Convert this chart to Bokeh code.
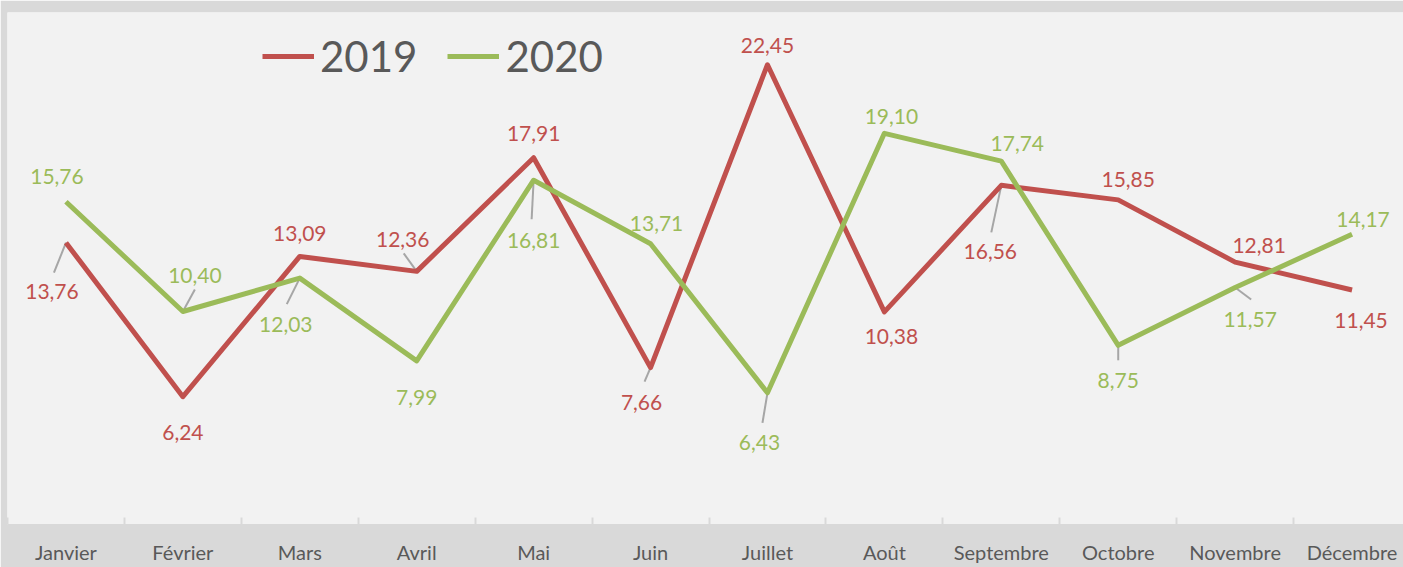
from bokeh.plotting import figure
from bokeh.models import ColumnDataSource, Range1d, FixedTicker, Legend, LegendItem
from bokeh.embed import file_html
from bokeh.resources import INLINE
from bokeh.core.properties import value

months = ["Janvier", "Février", "Mars", "Avril", "Mai", "Juin", "Juillet",
          "Août", "Septembre", "Octobre", "Novembre", "Décembre"]
v2019 = [13.76, 6.24, 13.09, 12.36, 17.91, 7.66, 22.45, 10.38, 16.56, 15.85, 12.81, 11.45]
v2020 = [15.76, 10.40, 12.03, 7.99, 16.81, 13.71, 6.43, 19.10, 17.74, 8.75, 11.57, 14.17]

# label placement (screen px, relative to the point)
lab2019_dx = [-14, 0, 0, -14, 0, -9, 0, 7, -11, 10, 24, 9]
lab2019_dy = [49, 36, -23, -32, -24, 35, -19, 25, 66, -20, -17, 30]
lab2020_dx = [-9, 12, -14, 0, 0, 6, -8, 7, 16, 0, 15, 11]
lab2020_dy = [-25, -36, 46, 37, 60, -20, 50, -17, -18, 35, 32, -15]

# leader lines: (index, dx, dy) end point offsets in px
lead2019 = [(0, -12, 30), (3, -13, -18), (5, -6, 14), (8, -10, 47)]
lead2020 = [(1, 12, -22), (2, -13, 26), (4, -2, 39), (6, -5, 30), (9, 0, 15), (10, 16, 12)]

RED = "#c0504d"
GREEN = "#9bbb59"
GRAY = "#595959"

W, H = 1403, 567
ML, MT, MR, MB = 7, 12, 0, 43
fw, fh = W - ML - MR, H - MT - MB
x0, x1 = -0.5, 11.44
y0, y1 = 0, 25
pxx = fw / (x1 - x0)
pxy = fh / (y1 - y0)

p = figure(width=W, height=H, x_range=Range1d(x0, x1), y_range=Range1d(y0, y1),
           output_backend="svg", toolbar_location=None,
           min_border_left=ML, min_border_top=MT, min_border_right=MR, min_border_bottom=MB)
p.background_fill_color = "#f2f2f2"
p.border_fill_color = "#d9d9d9"
p.outline_line_color = None
p.grid.visible = False
p.yaxis.visible = False

xs = list(range(len(months)))

ax = p.xaxis[0]
ax.ticker = FixedTicker(ticks=xs, minor_ticks=[i - 0.5 for i in range(len(months) + 1)])
ax.major_label_overrides = {i: m for i, m in enumerate(months)}
ax.major_tick_line_color = None
ax.minor_tick_line_color = "#d9d9d9"
ax.minor_tick_line_width = 2
ax.minor_tick_in = 7
ax.minor_tick_out = 0
ax.axis_line_color = "#d9d9d9"
ax.major_label_text_font = "Lato"
ax.major_label_text_font_size = "20px"
ax.major_label_text_color = GRAY
ax.major_label_standoff = 9

def leaders(vals, lead):
    xa, ya, xb, yb = [], [], [], []
    for i, dx, dy in lead:
        xa.append(i); ya.append(vals[i])
        xb.append(i + dx / pxx); yb.append(vals[i] - dy / pxy)
    return dict(x0=xa, y0=ya, x1=xb, y1=yb)

p.segment(source=ColumnDataSource(leaders(v2019, lead2019)), x0="x0", y0="y0", x1="x1", y1="y1",
          line_color="#a6a6a6", line_width=2)
p.segment(source=ColumnDataSource(leaders(v2020, lead2020)), x0="x0", y0="y0", x1="x1", y1="y1",
          line_color="#a6a6a6", line_width=2)

r19 = p.line(xs, v2019, line_color=RED, line_width=5, line_join="round")
r20 = p.line(xs, v2020, line_color=GREEN, line_width=5, line_join="round")

def fmt(v):
    return f"{v:.2f}".replace(".", ",")

for vals, dx, dy, col in [(v2019, lab2019_dx, lab2019_dy, RED), (v2020, lab2020_dx, lab2020_dy, GREEN)]:
    src = ColumnDataSource(dict(x=xs, y=vals, t=[fmt(v) for v in vals], dx=dx, dy=dy))
    p.text(x="x", y="y", text="t", x_offset="dx", y_offset="dy", source=src,
           text_font=value("Lato"), text_font_size="21px", text_color=col,
           text_align="center", text_baseline="middle")

legend = Legend(items=[LegendItem(label="2019", renderers=[r19]),
                       LegendItem(label="2020", renderers=[r20])],
                location=(255, 443), orientation="horizontal",
                background_fill_alpha=0, border_line_color=None,
                padding=0, margin=0, spacing=30, glyph_width=52, label_standoff=6,
                label_text_font="Lato", label_text_font_size="42px", label_text_color=GRAY)
p.add_layout(legend)

open("out.html", "w").write(file_html(p, INLINE))
